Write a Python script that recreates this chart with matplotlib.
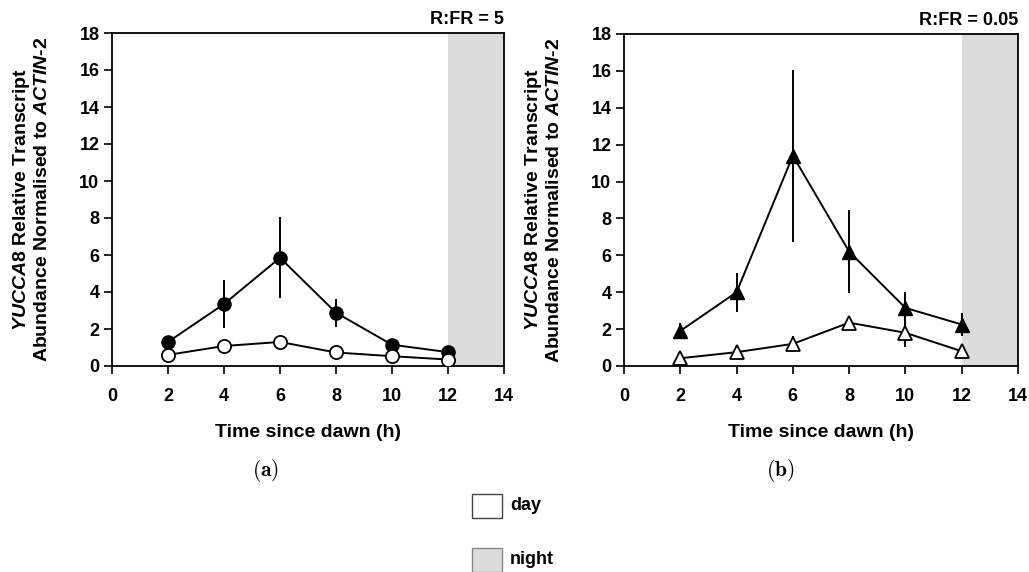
import matplotlib
matplotlib.use('Agg')
import matplotlib.pyplot as plt
from matplotlib.patches import Rectangle

plt.rcParams['font.family'] = ['Liberation Sans', 'DejaVu Sans']
plt.rcParams['font.weight'] = 'bold'
plt.rcParams['mathtext.fontset'] = 'custom'
plt.rcParams['mathtext.it'] = 'Liberation Sans:italic:bold'
plt.rcParams['mathtext.rm'] = 'Liberation Sans:bold'

hours = [2, 4, 6, 8, 10, 12]

# R:FR = 5 (circles)
high_dark = [1.3, 3.35, 5.85, 2.88, 1.15, 0.75]
high_dark_err = [0.15, 1.28, 2.2, 0.75, 0.2, 0.1]
high_light = [0.6, 1.08, 1.3, 0.73, 0.53, 0.35]
high_light_err = [0.1, 0.1, 0.1, 0.1, 0.1, 0.05]

# R:FR = 0.05 (triangles)
low_dark = [1.9, 4.0, 11.4, 6.2, 3.15, 2.25]
low_dark_err = [0.45, 1.05, 4.65, 2.25, 0.85, 0.65]
low_light = [0.42, 0.75, 1.2, 2.35, 1.8, 0.8]
low_light_err = [0.1, 0.2, 0.45, 0.35, 0.75, 0.1]

night_color = '#dcdcdc'
ylab = ("$\\mathit{YUCCA8}$ Relative Transcript\n"
        "Abundance Normalised to $\\mathit{ACTIN}$-2")

fig = plt.figure(figsize=(10.29, 5.72), dpi=100)
ax1 = fig.add_axes([112/1029, 1 - 366/572, 392/1029, 333/572])
ax2 = fig.add_axes([624/1029, 1 - 366/572, 394/1029, 332/572])

panels = [
    (ax1, high_dark, high_dark_err, high_light, high_light_err, 'o', 'R:FR = 5'),
    (ax2, low_dark, low_dark_err, low_light, low_light_err, '^', 'R:FR = 0.05'),
]

for ax, dk, dk_err, lt, lt_err, mk, title in panels:
    ax.axvspan(12, 14, color=night_color, lw=0, zorder=0)
    ax.errorbar(hours, dk, yerr=dk_err, fmt='-', marker=mk, color='black',
                mfc='black', mec='black', ms=9.5, lw=1.4, elinewidth=1.4,
                capsize=0, zorder=3)
    ax.errorbar(hours, lt, yerr=lt_err, fmt='-', marker=mk, color='black',
                mfc='white', mec='black', ms=9.5, mew=1.3, lw=1.4,
                elinewidth=1.4, capsize=0, zorder=3)
    ax.set_xlim(0, 14)
    ax.set_ylim(0, 18)
    ax.set_xticks(range(0, 15, 2))
    ax.set_yticks(range(0, 19, 2))
    ax.tick_params(direction='out', length=6, width=1.2, labelsize=13)
    ax.tick_params(axis='x', pad=10)
    ax.tick_params(axis='y', pad=3)
    for s in ax.spines.values():
        s.set_linewidth(1.3)
    ax.set_ylabel(ylab, fontsize=14, fontweight='bold', linespacing=1.15)
    ax.yaxis.set_label_coords(-0.155, 0.5)
    ax.set_xlabel('Time since dawn (h)', fontsize=14, fontweight='bold')
    ax.xaxis.set_label_coords(0.5, -0.175)
    ax.text(1.0, 1.015, title, transform=ax.transAxes, ha='right', va='bottom',
            fontsize=13, fontweight='bold')

fig.text(266/1029, 1 - 470/572, r'$\mathbf{(a)}$', math_fontfamily='cm',
         ha='center', va='center', fontsize=15.5)
fig.text(780/1029, 1 - 470/572, r'$\mathbf{(b)}$', math_fontfamily='cm',
         ha='center', va='center', fontsize=15.5)

# legend boxes
for yc, fc, ec, lab in [(506, 'white', '#444444', 'day'), (560, night_color, '#888888', 'night')]:
    fig.patches.append(Rectangle((472/1029, 1 - (yc + 12)/572), 30/1029, 24/572,
                                 transform=fig.transFigure, facecolor=fc,
                                 edgecolor=ec, lw=1))
    fig.text(510/1029, 1 - yc/572, lab, ha='left', va='center', fontsize=13,
             fontweight='bold')

fig.savefig('out.png', dpi=100)
